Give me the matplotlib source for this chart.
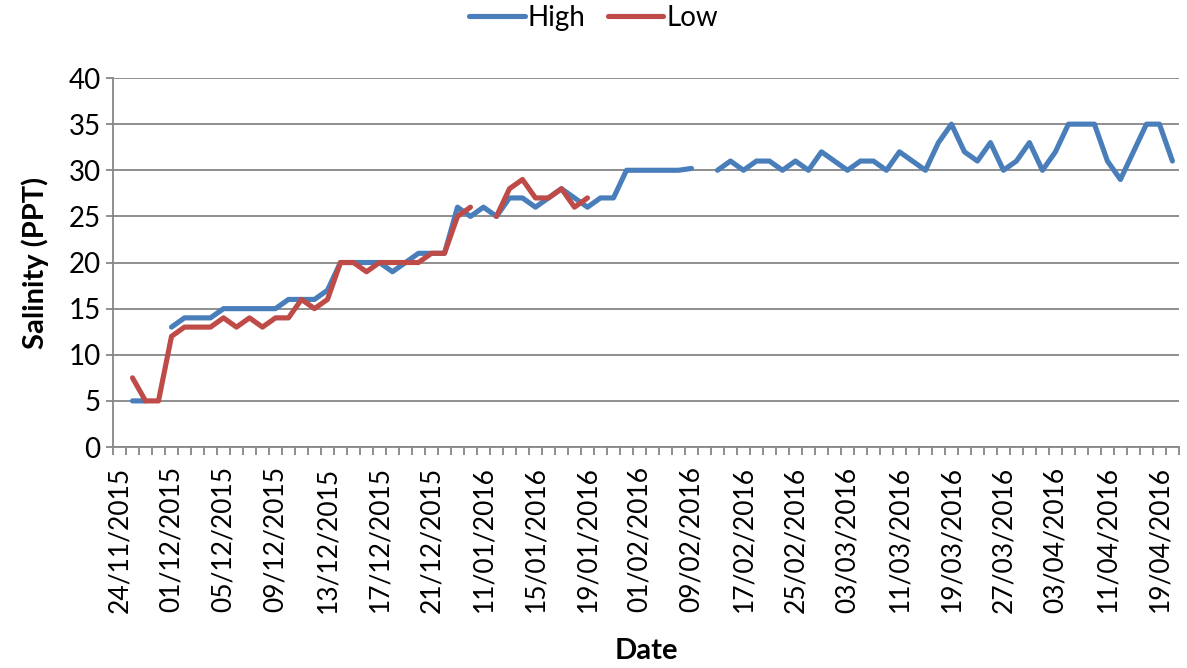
import numpy as np
import matplotlib
matplotlib.use("Agg")
import matplotlib.pyplot as plt

plt.rcParams['font.family'] = ['Lato', 'DejaVu Sans']

# category axis: 82 sampling days, every 4th one labelled
n_cat = 82
tick_labels = ['24/11/2015', '01/12/2015', '05/12/2015', '09/12/2015', '13/12/2015',
               '17/12/2015', '21/12/2015', '11/01/2016', '15/01/2016', '19/01/2016',
               '01/02/2016', '09/02/2016', '17/02/2016', '25/02/2016', '03/03/2016',
               '11/03/2016', '19/03/2016', '27/03/2016', '03/04/2016', '11/04/2016',
               '19/04/2016']

nan = np.nan
high = [nan, 5, 5, nan, 13, 14, 14, 14, 15, 15,
        15, 15, 15, 16, 16, 16, 17, 20, 20, 20,
        20, 19, 20, 21, 21, 21, 26, 25, 26, 25,
        27, 27, 26, 27, 28, 27, 26, 27, 27, 30,
        30, 30, 30, 30, 30.2, nan, 30, 31, 30, 31,
        31, 30, 31, 30, 32, 31, 30, 31, 31, 30,
        32, 31, 30, 33, 35, 32, 31, 33, 30, 31,
        33, 30, 32, 35, 35, 35, 31, 29, 32, 35,
        35, 31]
low = [nan, 7.5, 5, 5, 12, 13, 13, 13, 14, 13,
       14, 13, 14, 14, 16, 15, 16, 20, 20, 19,
       20, 20, 20, 20, 21, 21, 25, 26, nan, 25,
       28, 29, 27, 27, 28, 26, 27] + [nan] * 45

blue = '#4A7EBB'
red = '#BE4B48'
grey = '#868686'

fig = plt.figure(figsize=(11.87, 6.68), dpi=100)
ax = fig.add_axes([0.0952, 0.3308, 0.8980, 0.5524])

x = np.arange(n_cat)
ax.plot(x, high, color=blue, lw=3.7, label='High',
        solid_joinstyle='round', solid_capstyle='round', zorder=3)
ax.plot(x, low, color=red, lw=3.7, label='Low',
        solid_joinstyle='round', solid_capstyle='round', zorder=4)

ax.set_xlim(-0.5, n_cat - 0.5)
ax.set_ylim(0, 40)
ax.set_yticks(np.arange(0, 41, 5))
ax.yaxis.grid(True, color=grey, lw=1.3)
ax.set_axisbelow(True)

ax.set_xticks(np.arange(0, n_cat, 4))
ax.set_xticklabels(tick_labels, rotation=90)
ax.set_xticks(np.arange(-0.5, n_cat, 1), minor=True)
ax.tick_params(axis='x', which='major', length=0, pad=14, labelsize=19)
ax.tick_params(axis='x', which='minor', length=6, width=1.3, color=grey)
ax.tick_params(axis='y', length=5, width=1.3, color=grey, labelsize=20, pad=4)

for s in ['top', 'right']:
    ax.spines[s].set_visible(False)
for s in ['left', 'bottom']:
    ax.spines[s].set_color(grey)
    ax.spines[s].set_linewidth(1.3)

ax.set_xlabel('Date', fontsize=21, fontweight='bold', labelpad=18)
ax.set_ylabel('Salinity (PPT)', fontsize=21, fontweight='bold', labelpad=14)

fig.legend(loc='upper center', bbox_to_anchor=(0.5, 1.03), ncol=2, frameon=False,
           fontsize=20, handlelength=2.0, handletextpad=0.1, columnspacing=0.8)

fig.savefig('out.png', dpi=100)
